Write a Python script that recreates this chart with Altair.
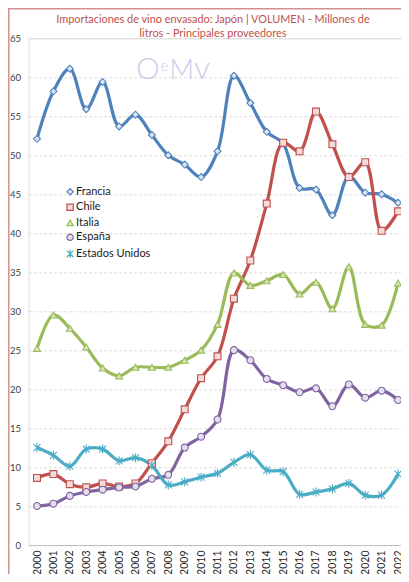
import altair as alt
import pandas as pd

years = list(range(2000, 2023))
series = ["Francia", "Chile", "Italia", "España", "Estados Unidos"]
francia = [52.1, 58.2, 61.1, 55.9, 59.4, 53.7, 55.2, 52.6, 50.0, 48.8, 47.2, 50.5,
           60.2, 56.7, 53.0, 51.5, 45.8, 45.6, 42.3, 47.3, 45.2, 45.0, 43.9]
chile = [8.6, 9.1, 7.8, 7.4, 7.9, 7.5, 7.9, 10.5, 13.3, 17.4, 21.4, 24.2,
         31.6, 36.5, 43.8, 51.6, 50.5, 55.6, 51.4, 47.2, 49.1, 40.3, 42.8]
italia = [25.2, 29.5, 27.8, 25.4, 22.7, 21.7, 22.8, 22.8, 22.8, 23.7, 25.0, 28.3,
          34.9, 33.3, 33.9, 34.7, 32.2, 33.7, 30.3, 35.7, 28.3, 28.2, 33.6]
espana = [5.0, 5.3, 6.3, 6.8, 7.1, 7.4, 7.5, 8.5, 9.0, 12.5, 13.9, 16.1,
          25.0, 23.7, 21.3, 20.5, 19.6, 20.1, 17.8, 20.6, 18.9, 19.8, 18.6]
eeuu = [12.5, 11.5, 10.1, 12.3, 12.3, 10.8, 11.2, 10.2, 7.7, 8.1, 8.7, 9.2,
        10.6, 11.6, 9.6, 9.4, 6.5, 6.8, 7.2, 7.9, 6.4, 6.4, 9.1]
y_ticks = list(range(0, 70, 5))

line_colors = ["#4F81BD", "#C0504D", "#9BBB59", "#8064A2", "#4BACC6"]
fill_colors = ["#DCE6F2", "#F2DCDB", "#D7E4BD", "#E4DFEC", "#4BACC6"]
shapes = ["diamond", "square", "triangle-up", "circle",
          "M-1,-1L1,1M-1,1L1,-1M0,-1.3L0,1.3"]

rows = []
for name, vals in zip(series, [francia, chile, italia, espana, eeuu]):
    for yr, v in zip(years, vals):
        rows.append({"Año": yr, "Valor": v, "País": name})
df = pd.DataFrame(rows)

W, H = 372.4, 506.7
FONT = "Lato"

x_enc = alt.X("Año:Q",
              scale=alt.Scale(domain=[1999.488, 2022.18], nice=False, zero=False),
              axis=alt.Axis(values=years, format="d", labelAngle=270, labelAlign="right",
                            labelBaseline="middle", grid=False, ticks=False, labelPadding=5,
                            domainColor="#BFBFBF", labelFontSize=10.5, labelColor="#262626",
                            labelFont=FONT, title=None, labelOverlap=False))
y_enc = alt.Y("Valor:Q",
              scale=alt.Scale(domain=[0, 65], nice=False),
              axis=alt.Axis(values=y_ticks, grid=True, gridColor="#DDDDDD", gridDash=[3, 2],
                            domain=False, ticks=False, labelPadding=8, labelFontSize=9.5,
                            labelColor="#404040", labelFont=FONT, title=None))

color_enc = alt.Color("País:N", sort=series,
                      scale=alt.Scale(domain=series, range=line_colors),
                      legend=alt.Legend(title=None, orient="none", legendX=36, legendY=148,
                                        labelFont=FONT, labelFontSize=11, labelColor="#1a1a1a",
                                        symbolSize=40, symbolStrokeWidth=1.2, rowPadding=2.5,
                                        labelOffset=0.5, padding=0))
fill_enc = alt.Fill("País:N", sort=series,
                    scale=alt.Scale(domain=series, range=fill_colors), legend=None)
shape_enc = alt.Shape("País:N", sort=series,
                      scale=alt.Scale(domain=series, range=shapes), legend=None)

base = alt.Chart(df)
lines = base.mark_line(interpolate="catmull-rom", strokeWidth=3.2).encode(
    x=x_enc, y=y_enc, color=color_enc, detail="País:N")
points = base.mark_point(filled=False, size=48, strokeWidth=1.1, opacity=1).encode(
    x=x_enc, y=y_enc, color=color_enc, fill=fill_enc, shape=shape_enc)

one = pd.DataFrame({"a": [0]})
wm_color = "#CACDE8"
wm_o = alt.Chart(one).mark_text(text="O", fontSize=30, font=FONT, fontWeight=300,
                                color=wm_color, align="left", baseline="alphabetic").encode(
    x=alt.value(107.5), y=alt.value(41))
wm_e = alt.Chart(one).mark_text(text="e", fontSize=15, font=FONT, fontWeight=300,
                                color=wm_color, align="left", baseline="alphabetic").encode(
    x=alt.value(132), y=alt.value(32.5))
wm_m = alt.Chart(one).mark_text(text="M", fontSize=27, font=FONT, fontWeight=300,
                                color=wm_color, align="left", baseline="alphabetic").encode(
    x=alt.value(141), y=alt.value(41))
wm_v = alt.Chart(one).mark_text(text="v", fontSize=32, font=FONT, fontWeight=300,
                                color=wm_color, align="left", baseline="alphabetic").encode(
    x=alt.value(165.5), y=alt.value(41))

border_c = "#D49090"
left_border = alt.Chart(one).mark_rule(color=border_c, strokeWidth=1.5).encode(
    x=alt.value(-19.8), y=alt.value(-30.3), y2=alt.value(H + 29))
top_border = alt.Chart(one).mark_rule(color=border_c, strokeWidth=1.5).encode(
    x=alt.value(-20.6), x2=alt.value(W), y=alt.value(-29.5))

chart = alt.layer(wm_o, wm_e, wm_m, wm_v, lines, points, left_border, top_border).properties(
    width=W, height=H,
    autosize=alt.AutoSizeParams(type="none"),
    padding={"left": 20.6, "top": 30.3, "right": 0, "bottom": 29},
    title=alt.TitleParams(
        text=["Importaciones de vino envasado: Japón | VOLUMEN - Millones de",
              "litros - Principales proveedores"],
        anchor="middle", frame="group", font=FONT, fontSize=10.9, fontWeight="normal",
        color="#C0504D", lineHeight=14.5, offset=0, dx=-1.8, dy=32),
).configure_view(stroke=None).configure(background="white")

chart.save("out.html", embed_options={"renderer": "svg", "actions": False})
